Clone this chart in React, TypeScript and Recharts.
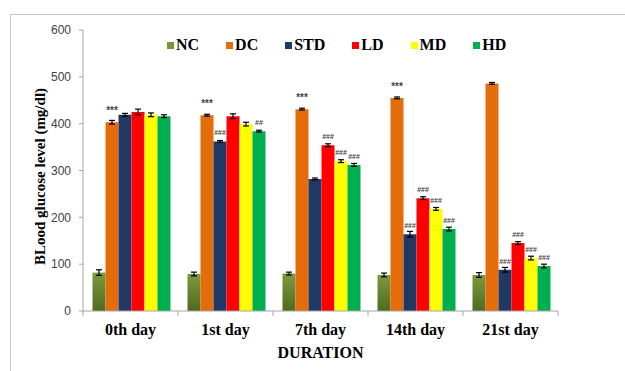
import React from "react";
import { BarChart, Bar, XAxis, YAxis, ErrorBar, LabelList, Legend, Label } from "recharts";

const categories = ["0th day", "1st day", "7th day", "14th day", "21st day"];
const ncValues = [82, 79, 80, 77, 77];
const ncErr = [6, 4, 3, 4, 5];
const dcValues = [403, 418, 431, 455, 486];
const dcErr = [4, 2, 2, 2, 2];
const stdValues = [419, 362, 282, 164, 88];
const stdErr = [3, 2, 2, 6, 5];
const ldValues = [425, 416, 354, 241, 145];
const ldErr = [6, 5, 3, 3, 3];
const mdValues = [419, 399, 320, 218, 113];
const mdErr = [4, 4, 3, 3, 4];
const hdValues = [416, 384, 312, 175, 96];
const hdErr = [3, 2, 3, 4, 4];
const dcSig = ["***", "***", "***", "***", ""];
const stdSig = ["", "###", "", "###", "###"];
const ldSig = ["", "", "###", "###", "###"];
const mdSig = ["", "", "###", "###", "###"];
const hdSig = ["", "##", "###", "###", "###"];
const yTicks = [0, 100, 200, 300, 400, 500, 600];

const data = categories.map((c, i) => ({
  day: c,
  NC: ncValues[i], ncE: ncErr[i],
  DC: dcValues[i], dcE: dcErr[i], dcS: dcSig[i],
  STD: stdValues[i], stdE: stdErr[i], stdS: stdSig[i],
  LD: ldValues[i], ldE: ldErr[i], ldS: ldSig[i],
  MD: mdValues[i], mdE: mdErr[i], mdS: mdSig[i],
  HD: hdValues[i], hdE: hdErr[i], hdS: hdSig[i],
}));

const series = [
  { key: "NC", err: "ncE", sig: null, color: "url(#ncGrad)", legend: "#77933c" },
  { key: "DC", err: "dcE", sig: "dcS", color: "#e46c0a", legend: "#e46c0a" },
  { key: "STD", err: "stdE", sig: "stdS", color: "#1f3864", legend: "#1f3864" },
  { key: "LD", err: "ldE", sig: "ldS", color: "#ff0000", legend: "#ff0000" },
  { key: "MD", err: "mdE", sig: "mdS", color: "#ffff00", legend: "#ffff00" },
  { key: "HD", err: "hdE", sig: "hdS", color: "#00b050", legend: "#00b050" },
];

const serif = "'Liberation Serif', 'Times New Roman', serif";
const sans = "'Liberation Sans', Arial, sans-serif";

const SigLabel = (props: any) => {
  const { x, y, width, value } = props;
  if (!value) return null;
  const stars = String(value).startsWith("*");
  return (
    <text
      x={x + width / 2}
      y={y - (stars ? 8 : 6)}
      textAnchor="middle"
      fontSize={stars ? 10 : 7}
      fontFamily={sans}
      fontWeight="bold"
      fill="#444444"
      stroke="none"
    >
      {value}
    </text>
  );
};

const XTick = (props: any) => {
  const { x, y, payload, index, visibleTicksCount } = props;
  const half = payload.offset || 47.5;
  const isLast = index === (visibleTicksCount ?? 5) - 1;
  return (
    <g>
      <line x1={x - half} x2={x - half} y1={y} y2={y + 5} stroke="#a6a6a6" />
      {isLast && <line x1={x + half} x2={x + half} y1={y} y2={y + 5} stroke="#a6a6a6" />}
      <text x={x} y={y + 24} textAnchor="middle" fontFamily={serif} fontWeight="bold" fontSize={16} fill="#000">
        {payload.value}
      </text>
    </g>
  );
};

const LegendContent = () => (
  <div style={{ display: "flex", alignItems: "center", fontFamily: serif, fontWeight: "bold", fontSize: 16, color: "#000" }}>
    {series.map((s) => (
      <div key={s.key} style={{ display: "flex", alignItems: "center", marginRight: 27 }}>
        <span style={{ display: "inline-block", width: 7, height: 7, background: s.legend, marginRight: 2 }} />
        <span>{s.key}</span>
      </div>
    ))}
  </div>
);

const YLabel = (props: any) => {
  const { viewBox } = props;
  const cx = viewBox.x - 3;
  const cy = viewBox.y + viewBox.height / 2 + 6;
  return (
    <text
      x={cx}
      y={cy}
      transform={`rotate(-90, ${cx}, ${cy})`}
      textAnchor="middle"
      dominantBaseline="central"
      fontFamily={serif}
      fontWeight="bold"
      fontSize={15}
      fill="#000"
    >
      BLood glucose level (mg/dl)
    </text>
  );
};

const XLabel = (props: any) => {
  const { viewBox } = props;
  const cx = viewBox.x + viewBox.width / 2;
  return (
    <text x={cx} y={358} textAnchor="middle" fontFamily={serif} fontWeight="bold" fontSize={16} fill="#000">
      DURATION
    </text>
  );
};

export default function App() {
  return (
    <div style={{ position: "absolute", left: 0, top: 0, width: 625, height: 371, overflow: "hidden", background: "#fff" }}>
      <div
        style={{
          position: "absolute",
          left: 10,
          top: 14,
          width: 700,
          height: 400,
          border: "1.5px solid #c8c8c8",
        }}
      />
      <div style={{ position: "absolute", left: 0, top: 0 }}>
        <BarChart
          width={625}
          height={371}
          data={data}
          margin={{ top: 30, right: 67, left: 43, bottom: 30 }}
          barCategoryGap="10%"
          barGap={0}
        >
          <defs>
            <linearGradient id="ncGrad" x1="0" y1="0" x2="0" y2="1">
              <stop offset="0%" stopColor="#7c9b3e" />
              <stop offset="100%" stopColor="#4f6a1f" />
            </linearGradient>
          </defs>
          <XAxis
            dataKey="day"
            height={30}
            axisLine={{ stroke: "#a6a6a6" }}
            tickLine={false}
            tickSize={0}
            tickMargin={0}
            tick={<XTick />}
            interval={0}
          >
            <Label content={<XLabel />} />
          </XAxis>
          <YAxis
            width={40}
            domain={[0, 600]}
            ticks={yTicks}
            axisLine={{ stroke: "#a6a6a6" }}
            tickLine={{ stroke: "#a6a6a6" }}
            tickSize={4}
            tickMargin={8}
            tick={{ fontSize: 12, fill: "#404040", fontFamily: sans }}
            interval={0}
          >
            <Label content={<YLabel />} />
          </YAxis>
          <Legend
            verticalAlign="middle"
            layout="horizontal"
            content={<LegendContent />}
            wrapperStyle={{ position: "absolute", top: 36, left: 167, width: 420 }}
          />
          {series.map((s) => (
            <Bar key={s.key} dataKey={s.key} fill={s.color} isAnimationActive={false}>
              <ErrorBar dataKey={s.err} width={3} stroke="#000" strokeWidth={1.2} direction="y" />
              {s.sig && <LabelList dataKey={s.sig} content={<SigLabel />} />}
            </Bar>
          ))}
        </BarChart>
      </div>
    </div>
  );
}
